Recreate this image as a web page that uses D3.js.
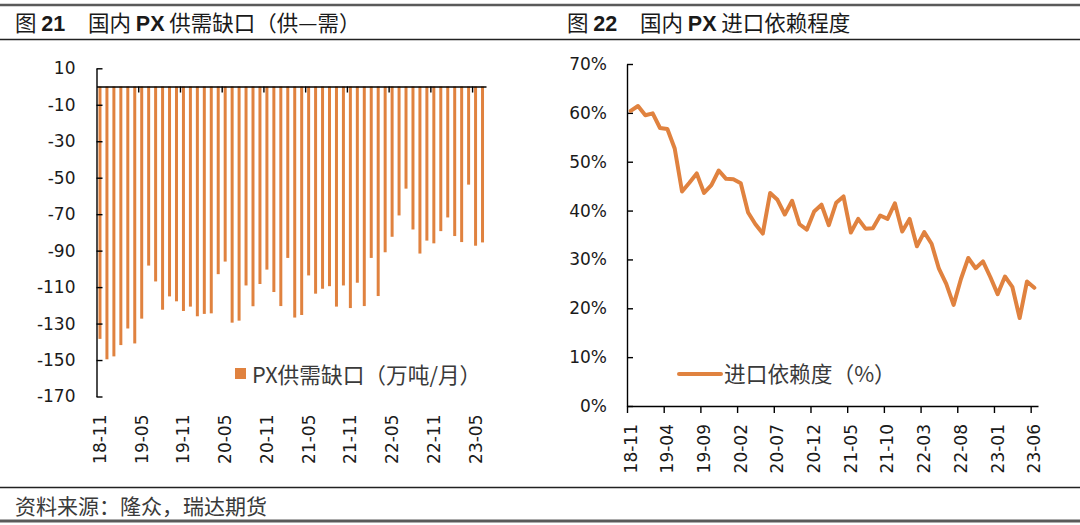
<!DOCTYPE html>
<html><head><meta charset="utf-8">
<script src="https://cdn.jsdelivr.net/npm/d3@7/dist/d3.min.js"></script>
<style>
html,body{margin:0;padding:0;background:#fff;}
svg{display:block;}
</style></head>
<body>
<svg id="c" width="1080" height="525"></svg>
<script>
// ---------- data ----------
const months = ["18-11","18-12","19-01","19-02","19-03","19-04","19-05","19-06","19-07","19-08","19-09","19-10","19-11","19-12",
"20-01","20-02","20-03","20-04","20-05","20-06","20-07","20-08","20-09","20-10","20-11","20-12",
"21-01","21-02","21-03","21-04","21-05","21-06","21-07","21-08","21-09","21-10","21-11","21-12",
"22-01","22-02","22-03","22-04","22-05","22-06","22-07","22-08","22-09","22-10","22-11","22-12",
"23-01","23-02","23-03","23-04","23-05","23-06"];
const gapValues = [-138.4,-149.6,-148,-141.8,-132.7,-140.9,-127.3,-98.2,-106.9,-122.4,
-115.1,-117.8,-123.1,-120.7,-126,-124.7,-124.4,-102.9,-96,-129.5,
-128.4,-109.1,-120.5,-108.3,-100.4,-112.7,-120.4,-94,-126.7,-125.3,
-103.6,-113.6,-110.9,-109.5,-120.7,-109.1,-121.5,-107.6,-120.4,-94,
-114.9,-90.9,-82.4,-70.7,-56,-78.4,-91.6,-84.5,-86,-79.3,
-71.8,-82,-85.3,-53.8,-87.3,-85.5];
const importDep = [60.4,61.4,59.5,59.9,56.9,56.7,52.7,43.9,45.7,47.6,
43.6,45.2,48.2,46.5,46.4,45.6,39.6,37.2,35.3,43.6,
42.2,39.2,42.0,37.2,36.1,39.8,41.2,37.0,41.6,42.9,
35.5,38.3,36.3,36.4,39.0,38.3,41.5,35.7,38.3,32.7,
35.6,33.2,28.1,25.0,20.7,26.0,30.3,28.2,29.6,26.4,
22.9,26.5,24.4,18.0,25.5,24.2];
const leftYTicks = [10,-10,-30,-50,-70,-90,-110,-130,-150,-170];
const rightYTicks = [0,10,20,30,40,50,60,70];
const leftXLabels = ["18-11","19-05","19-11","20-05","20-11","21-05","21-11","22-05","22-11","23-05"];
const rightXLabels = ["18-11","19-04","19-09","20-02","20-07","20-12","21-05","21-10","22-03","22-08","23-01","23-06"];
const leftLegend = "PX供需缺口（万吨/月）";
const rightLegend = "进口依赖度（%）";
const source = "资料来源：隆众，瑞达期货";

// ---------- styles ----------
const ORANGE = "#E0823F";
const TICKFONT = "'DejaVu Sans', Verdana, sans-serif";
const CJK = "'Noto Sans CJK SC', sans-serif";
const svg = d3.select("#c");

// frame lines
function hline(y, w, c){ svg.append("line").attr("x1",0).attr("x2",1080).attr("y1",y).attr("y2",y).attr("stroke",c).attr("stroke-width",w); }
hline(5, 2.5, "#5a5a5a");
hline(39.5, 1.3, "#222");
hline(487.5, 1.3, "#222");
hline(521, 3, "#5a5a5a");

// titles
function title(x0, x1, num, rest1){
  const t = svg.append("text").attr("y",31).attr("font-size",21.5).attr("fill","#1a1a1a")
    .attr("font-family","'Liberation Sans', 'Noto Sans CJK SC', sans-serif");
  t.append("tspan").attr("x",x0).attr("font-family",CJK).text("图 ");
  t.append("tspan").attr("font-weight","bold").text(num);
  t.append("tspan").attr("x",x1).attr("font-family",CJK).text("国内 ");
  t.append("tspan").attr("font-weight","bold").text("PX");
  t.append("tspan").attr("font-family",CJK).text(" " + rest1);
}
title(15, 88, "21", "供需缺口（供—需）");
title(567, 640, "22", "进口依赖程度");

svg.append("text").attr("x",15).attr("y",514).attr("font-size",21).attr("fill","#3a3a3a")
  .attr("font-family",CJK).text(source);

function styleAxis(g){
  g.selectAll("path,line").attr("stroke","#000").attr("stroke-width",1.4);
  g.selectAll("text").attr("font-family",TICKFONT).attr("font-size",17).attr("fill","#1a1a1a");
}

// ---------- left chart ----------
const L0 = 96.5, L1 = 486;
const xL = d3.scaleBand().domain(months).range([L0, L1]).paddingInner(0.57).paddingOuter(0.285);
const xLi = d3.scaleLinear().domain([0, months.length]).range([L0, L1]);
const yL = d3.scaleLinear().domain([-170, 10]).range([396.5, 68.3]);

svg.append("g").selectAll("rect").data(gapValues).join("rect")
  .attr("x",(d,i)=>xL(months[i]))
  .attr("width",xL.bandwidth())
  .attr("y",d=>yL(Math.max(0,d)))
  .attr("height",d=>Math.abs(yL(d)-yL(0)))
  .attr("fill",ORANGE);

const gyL = svg.append("g").attr("transform",`translate(${L0},0)`)
  .call(d3.axisLeft(yL).tickValues(leftYTicks).tickFormat(d=>String(d)).tickSize(-6).tickSizeOuter(0).tickPadding(21));
styleAxis(gyL);

const gzL = svg.append("g").attr("transform",`translate(0,${yL(0)})`)
  .call(d3.axisBottom(xLi).tickValues(d3.range(6, months.length, 6)).tickSize(6).tickSizeOuter(0).tickFormat(""));
styleAxis(gzL);

const gxL = svg.append("g").attr("transform",`translate(0,${yL(-170)})`)
  .call(d3.axisBottom(xL).tickValues(leftXLabels).tickSize(0));
gxL.select(".domain").remove();
styleAxis(gxL);
gxL.selectAll("text").attr("transform","rotate(-90)").attr("text-anchor","end")
  .attr("x",-18).attr("y",0).attr("dy","0.35em");

// legend left
svg.append("rect").attr("x",235).attr("y",368).attr("width",11).attr("height",11).attr("fill",ORANGE);
svg.append("text").attr("x",252).attr("y",382.5).attr("font-size",21.7).attr("fill","#3a3a3a")
  .attr("font-family",CJK).text(leftLegend);

// ---------- right chart ----------
const R0 = 627, R1 = 1038;
const xR = d3.scaleBand().domain(months).range([R0, R1]);
const xRi = d3.scaleLinear().domain([0, months.length]).range([R0, R1]);
const yR = d3.scaleLinear().domain([0, 70]).range([406, 64]);

const gyR = svg.append("g").attr("transform",`translate(${R0},0)`)
  .call(d3.axisLeft(yR).tickValues(rightYTicks).tickFormat(d=>d+"%").tickSize(-6).tickSizeOuter(0).tickPadding(20));
styleAxis(gyR);

const gtR = svg.append("g").attr("transform",`translate(0,${yR(0)})`)
  .call(d3.axisBottom(xRi).tickValues(d3.range(0, months.length, 5)).tickSize(7).tickSizeOuter(0).tickFormat(""));
styleAxis(gtR);

const gxR = svg.append("g").attr("transform",`translate(0,${yR(0)})`)
  .call(d3.axisBottom(xR).tickValues(rightXLabels).tickSize(0));
gxR.select(".domain").remove();
styleAxis(gxR);
gxR.selectAll("text").attr("transform","rotate(-90)").attr("text-anchor","end")
  .attr("x",-18).attr("y",0).attr("dy","0.35em");

const line = d3.line()
  .x((d,i)=>xR(months[i]) + xR.bandwidth()/2)
  .y(d=>yR(d));
svg.append("path").datum(importDep).attr("d",line)
  .attr("fill","none").attr("stroke",ORANGE).attr("stroke-width",4)
  .attr("stroke-linejoin","round").attr("stroke-linecap","round");

// legend right
svg.append("line").attr("x1",679).attr("x2",721).attr("y1",374).attr("y2",374)
  .attr("stroke",ORANGE).attr("stroke-width",4).attr("stroke-linecap","round");
svg.append("text").attr("x",724).attr("y",381.5).attr("font-size",21.7).attr("fill","#3a3a3a")
  .attr("font-family",CJK).text(rightLegend);
</script>
</body></html>
